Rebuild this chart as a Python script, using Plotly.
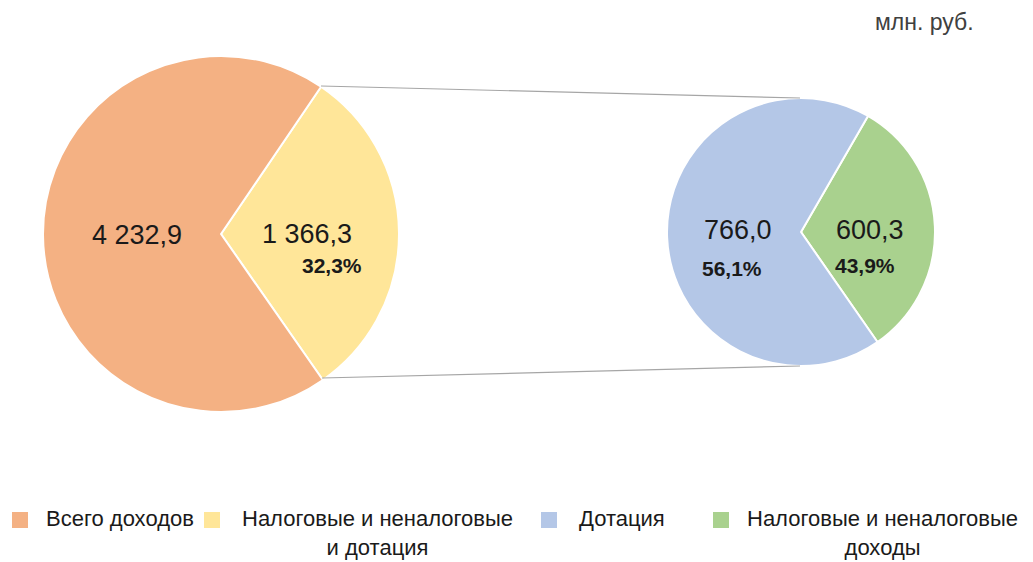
import plotly.graph_objects as go

# ---- data ----
left_labels = ["Налоговые и неналоговые и дотация", "Всего доходов"]
left_values = [30.8, 69.2]              # slice shares as drawn (yellow, orange)
left_texts = ["1 366,3", "4 232,9"]
left_pct = "32,3%"

right_labels = ["Налоговые и неналоговые доходы", "Дотация"]
right_values = [32.0, 68.0]             # slice shares as drawn (green, blue)
right_texts = ["600,3", "766,0"]
right_pcts = ["43,9%", "56,1%"]

legend_names = ["Всего доходов", "Налоговые и неналоговые<br>и дотация",
                "Дотация", "Налоговые и неналоговые<br>доходы"]

colors_left = ["#FFE699", "#F4B183"]
colors_right = ["#A9D18E", "#B4C7E7"]
legend_colors = ["#F4B183", "#FFE699", "#B4C7E7", "#A9D18E"]

W, H = 1033, 562
FONT = "Liberation Sans, Arial, sans-serif"
TXT = "#1a1a1a"


def px(x):
    return x / W


def py(y):
    return 1 - y / H


def domain(cx, cy, r):
    return dict(x=[px(cx - r), px(cx + r)], y=[py(cy + r), py(cy - r)])


fig = go.Figure()
fig.add_trace(go.Pie(
    labels=left_labels, values=left_values, sort=False, direction="clockwise",
    rotation=34.2, domain=domain(221, 234, 178), textinfo="none", hoverinfo="label",
    marker=dict(colors=colors_left, line=dict(color="white", width=2)),
    showlegend=False))
fig.add_trace(go.Pie(
    labels=right_labels, values=right_values, sort=False, direction="clockwise",
    rotation=30, domain=domain(801, 232, 134), textinfo="none", hoverinfo="label",
    marker=dict(colors=colors_right, line=dict(color="white", width=2)),
    showlegend=False))

ann = []


def add_text(x, y, t, size, bold=False, color=TXT, align="center", xanchor="center"):
    ann.append(dict(x=px(x), y=py(y), xref="paper", yref="paper", text=(f"<b>{t}</b>" if bold else t),
                    showarrow=False, xanchor=xanchor, yanchor="middle", align=align,
                    font=dict(family=FONT, size=size, color=color)))


# value labels
add_text(137, 235, left_texts[1], 27)
add_text(307, 234, left_texts[0], 27)
add_text(332, 266, left_pct, 21, bold=True)
add_text(738, 230, right_texts[1], 27)
add_text(732, 268, right_pcts[1], 21, bold=True)
add_text(870, 230, right_texts[0], 27)
add_text(865, 265, right_pcts[0], 21, bold=True)

# unit
add_text(924, 22, "млн. руб.", 23, color="#404040")

shapes = []
# connector lines
for (x0, y0, x1, y1) in [(321, 86, 800, 98), (322, 378, 800, 366)]:
    shapes.append(dict(type="line", xref="paper", yref="paper", x0=px(x0), y0=py(y0),
                       x1=px(x1), y1=py(y1), line=dict(color="#A6A6A6", width=1.2)))

# manual legend
sq = [(12, 28), (204, 220), (541, 557), (713, 729)]
txt_x = [(40, 200), (227, 527), (577, 667), (737, 1027)]
for i, name in enumerate(legend_names):
    shapes.append(dict(type="rect", xref="paper", yref="paper", x0=px(sq[i][0]), x1=px(sq[i][1]),
                       y0=py(528), y1=py(512), fillcolor=legend_colors[i], line=dict(width=0)))
    cx = (txt_x[i][0] + txt_x[i][1]) / 2
    ann.append(dict(x=px(cx), y=py(504), xref="paper", yref="paper", text=name, showarrow=False,
                    xanchor="center", yanchor="top", align="center",
                    font=dict(family=FONT, size=22, color=TXT)))

fig.update_layout(width=W, height=H, autosize=False, margin=dict(l=0, r=0, t=0, b=0),
                  paper_bgcolor="white", plot_bgcolor="white", annotations=ann, shapes=shapes,
                  showlegend=False)

fig.write_html("out.html", config={"displayModeBar": False},
               post_script="document.body.style.margin='0';document.body.style.overflow='hidden';")
